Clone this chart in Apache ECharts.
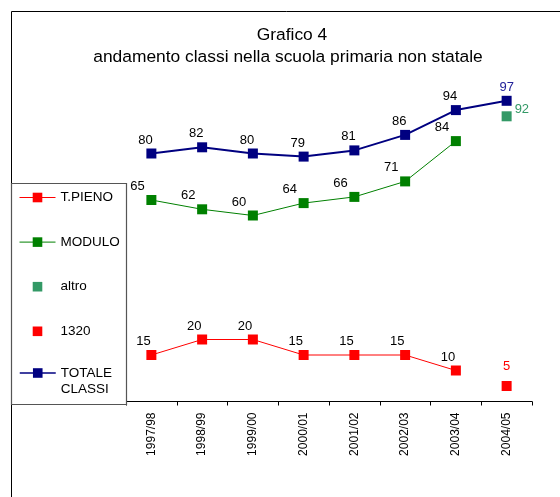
<!DOCTYPE html>
<html>
<head>
<meta charset="utf-8">
<script src="https://cdn.jsdelivr.net/npm/echarts@6/dist/echarts.min.js"></script>
<style>
  html, body { margin: 0; padding: 0; background: #fff; }
  #chart { width: 560px; height: 497px; }
</style>
</head>
<body>
<div id="chart"></div>
<script>
const years = ['1997/98', '1998/99', '1999/00', '2000/01', '2001/02', '2002/03', '2003/04', '2004/05']
const tempoPieno = [15, 20, 20, 15, 15, 15, 10, null]
const modulo = [65, 62, 60, 64, 66, 71, 84, null]
const altro = [null, null, null, null, null, null, null, 92]
const orario1320 = [null, null, null, null, null, null, null, 5]
const totaleClassi = [80, 82, 80, 79, 81, 86, 94, 97]

const FONT = 'Liberation Sans, Arial, sans-serif'

// last point of TOTALE gets its own label colour
const totaleData = totaleClassi.map((v, i) =>
  i === totaleClassi.length - 1 ? { value: v, label: { color: '#22229a', offset: [0, 0] } } : v
)

function lineSeries(name, data, color, width, offsetX) {
  return {
    name: name,
    type: 'line',
    data: data,
    symbol: 'rect',
    symbolSize: 10,
    color: color,
    lineStyle: { color: color, width: width },
    itemStyle: { color: color, borderWidth: 0 },
    label: {
      show: true,
      position: 'top',
      distance: 2,
      offset: [offsetX, 0],
      fontSize: 13,
      fontFamily: FONT,
      color: '#000'
    }
  }
}

function pointSeries(name, data, color, label) {
  return {
    name: name,
    type: 'line',
    data: data,
    symbol: 'rect',
    symbolSize: 10,
    color: color,
    lineStyle: { width: 0 },
    itemStyle: { color: color, borderWidth: 0 },
    label: Object.assign({ show: true, fontSize: 13, fontFamily: FONT, color: color }, label)
  }
}

const legendBase = {
  orient: 'vertical',
  left: 19,
  padding: 0,
  itemWidth: 36,
  itemHeight: 12,
  itemGap: 30.6,
  selectedMode: false,
  textStyle: { fontSize: 13.5, fontFamily: FONT, color: '#000' }
}

const chart = echarts.init(document.getElementById('chart'))
chart.setOption({
  animation: false,
  graphic: [
    { type: 'rect', z: 0, shape: { x: 11.5, y: 11.5, width: 700, height: 700 },
      style: { fill: 'none', stroke: '#000', lineWidth: 1 } },
    { type: 'rect', z: 1, shape: { x: 11.5, y: 183.5, width: 115, height: 221 },
      style: { fill: '#fff', stroke: '#555', lineWidth: 1.2 } },
    { type: 'text', z: 2, style: { text: 'Grafico 4', x: 292, y: 35, align: 'center', verticalAlign: 'middle',
      font: '17.4px ' + FONT, fill: '#000' } },
    { type: 'text', z: 2, style: { text: 'andamento classi nella scuola primaria non statale', x: 288, y: 57,
      align: 'center', verticalAlign: 'middle', font: '17.4px ' + FONT, fill: '#000' } }
  ],
  legend: [
    Object.assign({}, legendBase, {
      top: 190.5,
      data: [
        { name: 'T.PIENO', lineStyle: { width: 1 } },
        { name: 'MODULO', lineStyle: { width: 1 } },
        { name: 'altro', lineStyle: { width: 0 } },
        { name: '1320', lineStyle: { width: 0 } }
      ]
    }),
    Object.assign({}, legendBase, {
      top: 349,
      // blank first line keeps "TOTALE" level with the marker, "CLASSI" below it
      formatter: name => ' \n' + name.replace(' ', '\n'),
      textStyle: { fontSize: 13.5, lineHeight: 16, fontFamily: FONT, color: '#000' },
      data: [{ name: 'TOTALE CLASSI', lineStyle: { width: 1.5 } }]
    })
  ],
  grid: { left: 126, right: 28, top: 91.5, bottom: 95.5, containLabel: false },
  xAxis: {
    type: 'category',
    data: years,
    boundaryGap: true,
    axisLine: { lineStyle: { color: '#000', width: 1 } },
    axisTick: { show: true, interval: 0, length: 4, alignWithLabel: false, lineStyle: { color: '#000' } },
    axisLabel: { rotate: 90, interval: 0, margin: 11, fontSize: 12, fontFamily: FONT, color: '#000' }
  },
  yAxis: {
    type: 'value',
    min: 0,
    max: 100,
    show: false
  },
  series: [
    lineSeries('T.PIENO', tempoPieno, '#ff0000', 1, -8),
    lineSeries('MODULO', modulo, '#008000', 1, -14),
    pointSeries('altro', altro, '#339966', { position: 'right', distance: 3, offset: [0, -7] }),
    pointSeries('1320', orario1320, '#ff0000', { position: 'top', distance: 8 }),
    lineSeries('TOTALE CLASSI', totaleData, '#000080', 2, -6)
  ]
})
</script>
</body>
</html>
